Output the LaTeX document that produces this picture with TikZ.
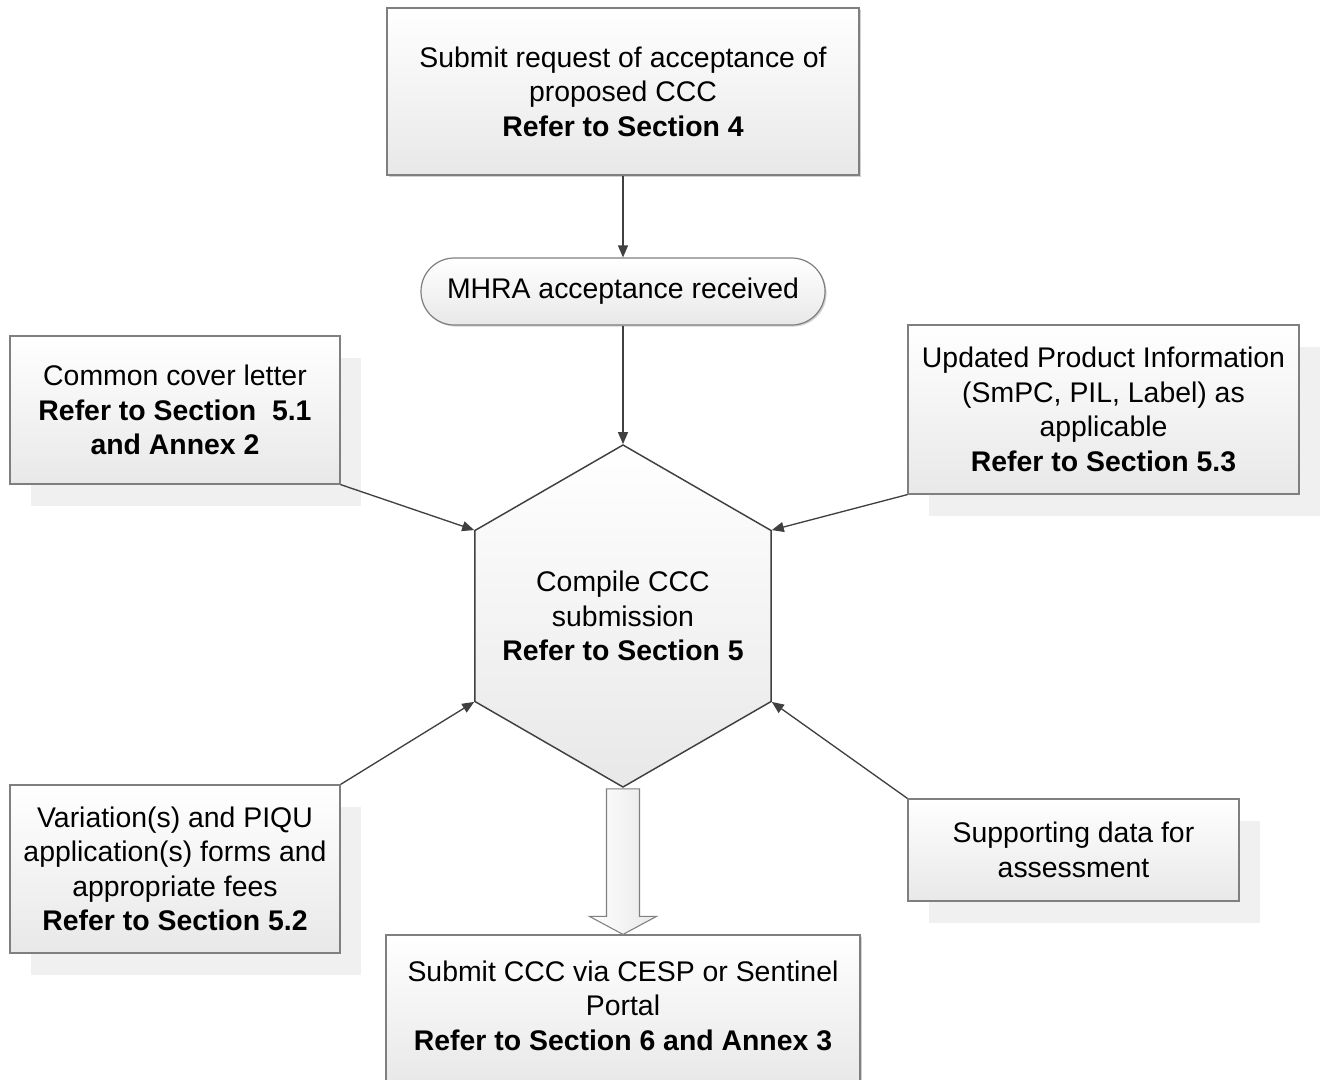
\documentclass[tikz,border=0pt]{standalone}
\usepackage{fontspec}
\setmainfont{Liberation Sans}
\usetikzlibrary{shapes.geometric,shadows,arrows.meta,calc}
\definecolor{boxline}{HTML}{7F7F7F}
\definecolor{boxfill}{HTML}{E8E8E8}
\definecolor{shadowc}{HTML}{F0F0F0}
\definecolor{lineclr}{HTML}{404040}
\begin{document}
\begin{tikzpicture}[x=0.75pt,y=-0.75pt,
  every node/.style={font={\fontsize{21.3}{25.9}\selectfont}, align=center},
  box/.style={draw=boxline, line width=0.9pt, rectangle, top color=white, bottom color=boxfill, inner sep=0pt},
  bigshadow/.style={drop shadow={shadow xshift=15.75pt, shadow yshift=-16.5pt, fill=shadowc, opacity=1}},
  tinyshadow/.style={drop shadow={shadow xshift=1.2pt, shadow yshift=-1.2pt, fill=black!18, opacity=1}},
  hexshape/.style={draw=lineclr, line width=1.1pt, regular polygon, regular polygon sides=6, regular polygon rotate=30, minimum size=256.5pt, inner sep=0pt, top color=white, bottom color=boxfill},
  conn/.style={draw=lineclr, line width=1pt, -{Triangle[length=9pt,width=7.5pt]}},
  blockarrow/.style={draw=boxline, line width=0.8pt, left color=white, right color=boxfill},
]
\useasboundingbox (0,0) rectangle (1325,1079);

\node[box, tinyshadow, minimum width=354pt, minimum height=125.25pt] (req) at (623,91.5)
  {Submit request of acceptance of\\proposed CCC\\\textbf{Refer to Section 4}};

\node[box, tinyshadow, rounded corners=25pt, minimum width=303pt, minimum height=50.25pt] (mhra) at (623,291.5)
  {MHRA acceptance received};

\node[hexshape] (hex) at (623,616) {};
\node (hextxt) at (hex.center)
  {Compile CCC\\submission\\\textbf{Refer to Section 5}};

\node[box, bigshadow, minimum width=247.5pt, minimum height=111pt] (lb1) at (175,410)
  {Common cover letter\\\textbf{Refer to Section~ 5.1}\\\textbf{and Annex 2}};

\node[box, bigshadow, minimum width=293.25pt, minimum height=126.75pt] (rb1) at (1103.5,409.5)
  {Updated Product Information\\(SmPC, PIL, Label) as\\applicable\\\textbf{Refer to Section 5.3}};

\node[box, bigshadow, minimum width=247.5pt, minimum height=126pt] (lb2) at (175,869)
  {Variation(s) and PIQU\\application(s) forms and\\appropriate fees\\\textbf{Refer to Section 5.2}};

\node[box, bigshadow, minimum width=248.25pt, minimum height=76.5pt] (rb2) at (1073.5,850)
  {Supporting data for\\assessment};

\node[box, tinyshadow, minimum width=355.5pt, minimum height=111pt] (bot) at (623,1009)
  {\raisebox{1.8pt}{\begin{tabular}{@{}c@{}}Submit CCC via CESP or Sentinel\\Portal\\\textbf{Refer to Section 6 and Annex 3}\end{tabular}}};

\draw[conn] (req.south) -- (mhra.north);
\draw[conn] (mhra.south) -- (hex.90);
\draw[conn] (lb1.south east) -- (hex.150);
\draw[conn] (rb1.south west) -- (hex.30);
\draw[conn] (lb2.north east) -- (hex.210);
\draw[conn] (rb2.north west) -- (hex.330);

\draw[blockarrow] ($(hex.270)+(-16.5,1)$) -- ($(bot.north)+(-16.5,-18)$) -- ($(bot.north)+(-33.5,-18)$)
  -- (bot.north) -- ($(bot.north)+(33.5,-18)$) -- ($(bot.north)+(16.5,-18)$) -- ($(hex.270)+(16.5,1)$) -- cycle;
\end{tikzpicture}
\end{document}
